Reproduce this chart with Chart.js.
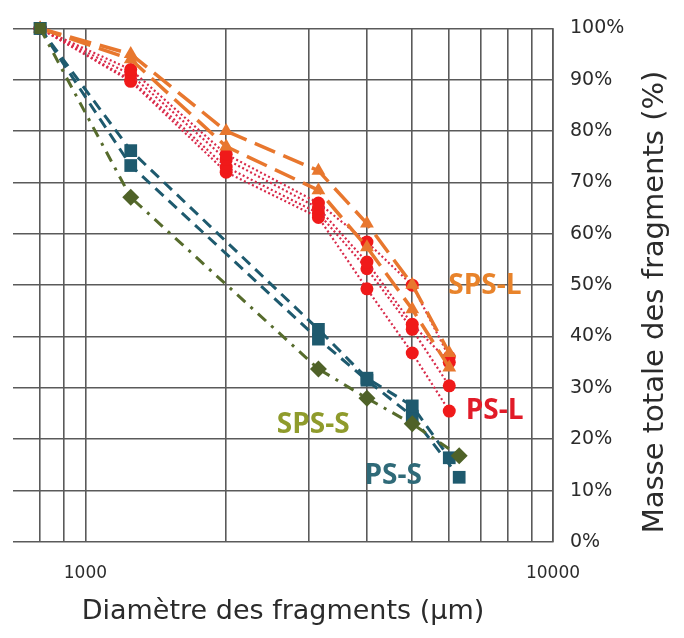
<!DOCTYPE html>
<html>
<head>
<meta charset="utf-8">
<script src="https://cdn.jsdelivr.net/npm/chart.js@4/dist/chart.umd.min.js"></script>
<style>
    body { margin: 0; background: #fff; }
    #chart { display: block; }
</style>
</head>
<body>
<canvas id="chart" width="684" height="638"></canvas>
<script>
// Sieve sizes (µm)
const sizesL = [800, 1250, 2000, 3150, 4000, 5000, 6000];
const sizesS1 = [800, 1250, 3150, 4000, 5000, 6000];
const sizesS2 = [800, 1250, 3150, 4000, 5000, 6300];

// Cumulative mass passing (%)
const spsL1 = [100, 95, 80, 72.3, 62, 50.1, 36.8];
const spsL2 = [100, 94, 77, 68.5, 57.4, 45.3, 34];
const psL1 = [100, 92, 75.5, 66, 58.4, 50, 36];
const psL2 = [100, 91, 74.5, 65, 54.5, 42.4, 35];
const psL3 = [100, 90, 73, 64, 53.2, 41.4, 30.4];
const psL4 = [100, 89.7, 72, 63.2, 49.3, 36.8, 25.5];
const psS1 = [100, 76.2, 41.4, 31.9, 26.5, 16.4];
const psS2 = [100, 73.3, 39.5, 31.5, 24.5, 12.6];
const spsS = [100, 67.1, 33.7, 28, 23, 16.8];

// Axis
const xGridValues = [800, 900, 1000, 2000, 3000, 4000, 5000, 6000, 7000, 8000, 9000, 10000];
const xLabelValues = [1000, 10000];

// Series labels, anchored in data units
const seriesLabels = [
    { text: 'SPS-L', x: 7150, y: 49.8, color: '#E8832B' },
    { text: 'PS-L', x: 7500, y: 25.5, color: '#E11B28' },
    { text: 'SPS-S', x: 3070, y: 22.8, color: '#8F9B2C' },
    { text: 'PS-S', x: 4550, y: 12.8, color: '#2F6A78' }
];

function toPoints(xs, ys) {
    return xs.map((x, i) => ({ x: x, y: ys[i] }));
}

const ORANGE = '#E8772E';
const RED_LINE = '#D92A4A';
const RED = '#F01A1A';
const TEAL = '#1E5A6E';
const OLIVE = '#566B2C';

function orangeSet(data) {
    return {
        data: toPoints(sizesL, data),
        borderColor: ORANGE,
        backgroundColor: ORANGE,
        borderWidth: 3.5,
        borderDash: [22, 9],
        pointStyle: 'triangle',
        pointRadius: 8,
        pointBorderWidth: 0
    };
}

function redSet(data) {
    return {
        data: toPoints(sizesL, data),
        borderColor: RED_LINE,
        backgroundColor: RED,
        borderWidth: 2.2,
        borderDash: [2, 2.5],
        pointStyle: 'circle',
        pointRadius: 6.5,
        pointBorderWidth: 0
    };
}

function tealSet(xs, data) {
    return {
        data: toPoints(xs, data),
        borderColor: TEAL,
        backgroundColor: TEAL,
        borderWidth: 3,
        borderDash: [11, 7],
        pointStyle: 'rect',
        pointRadius: 9,
        pointBorderWidth: 0
    };
}

const datasets = [
    {
        data: toPoints(sizesS2, spsS),
        borderColor: OLIVE,
        backgroundColor: '#4F6228',
        borderWidth: 3,
        borderDash: [11, 7, 3, 7],
        pointStyle: ['rect', 'rectRot', 'rectRot', 'rectRot', 'rectRot', 'rectRot'],
        pointRadius: [8, 8.5, 8.5, 8.5, 8.5, 8.5],
        pointBorderWidth: 0
    },
    tealSet(sizesS1, psS1),
    tealSet(sizesS2, psS2),
    orangeSet(spsL1),
    orangeSet(spsL2),
    redSet(psL1),
    redSet(psL2),
    redSet(psL3),
    redSet(psL4)
].map(ds => Object.assign(ds, { showLine: true, clip: false, tension: 0 }));

const textPlugin = {
    id: 'textPlugin',
    afterDraw(chart) {
        const ctx = chart.ctx;
        const xs = chart.scales.x;
        const ys = chart.scales.y;
        ctx.save();
        ctx.textAlign = 'center';
        ctx.textBaseline = 'middle';
        ctx.font = 'bold 28px "Open Sans"';
        seriesLabels.forEach(l => {
            ctx.fillStyle = l.color;
            ctx.fillText(l.text, xs.getPixelForValue(l.x), ys.getPixelForValue(l.y));
        });
        // Y axis title, reading bottom to top
        ctx.translate(chart.width - 29, 302);
        ctx.rotate(-Math.PI / 2);
        ctx.fillStyle = '#2b2b2b';
        ctx.font = '29px "DejaVu Sans"';
        ctx.fillText('Masse totale des fragments (%)', 0, 0);
        ctx.restore();
    }
};

new Chart(document.getElementById('chart'), {
    type: 'scatter',
    data: { datasets: datasets },
    options: {
        responsive: false,
        animation: false,
        devicePixelRatio: 1,
        layout: { padding: { left: 13, top: 25, right: 0, bottom: 0 } },
        plugins: {
            legend: { display: false },
            tooltip: { enabled: false }
        },
        scales: {
            x: {
                type: 'logarithmic',
                min: 700,
                max: 10000,
                afterBuildTicks: (scale) => {
                    scale.ticks = xGridValues.map(v => ({ value: v }));
                },
                afterFit: (scale) => { scale.height = 96; },
                ticks: {
                    autoSkip: false,
                    maxRotation: 0,
                    padding: 21,
                    color: '#2b2b2b',
                    font: { family: 'DejaVu Sans', size: 17 },
                    callback: (v) => xLabelValues.includes(v) ? String(v) : ''
                },
                grid: { color: '#5a5a5a', lineWidth: 1.6, drawTicks: false },
                border: { display: false },
                title: {
                    display: true,
                    text: 'Diamètre des fragments (µm)',
                    color: '#2b2b2b',
                    font: { family: 'DejaVu Sans', size: 27 },
                    padding: { top: 0, bottom: 10 }
                }
            },
            y: {
                position: 'right',
                min: 0,
                max: 100,
                afterFit: (scale) => { scale.width = 131; },
                ticks: {
                    stepSize: 10,
                    padding: 17,
                    color: '#2b2b2b',
                    font: { family: 'DejaVu Sans', size: 19 },
                    callback: (v) => v + '%'
                },
                grid: { color: '#5a5a5a', lineWidth: 1.6, drawTicks: false },
                border: { color: '#5a5a5a', width: 1.6 }
            }
        }
    },
    plugins: [textPlugin]
});
</script>
</body>
</html>
